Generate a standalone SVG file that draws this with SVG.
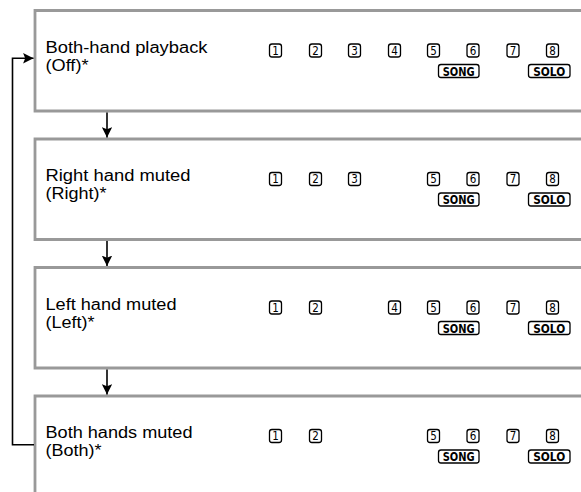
<svg xmlns="http://www.w3.org/2000/svg" width="581" height="492" viewBox="0 0 581 492">
<style>
.box{fill:none;stroke:#999;stroke-width:2.8}
.lbl{font-family:"Liberation Sans",Arial,sans-serif;font-size:16px;fill:#000}
.k{fill:#fff;stroke:#000;stroke-width:1.3}
.kt{font-family:"DejaVu Sans Condensed","DejaVu Sans",sans-serif;font-size:11.5px;text-anchor:middle;fill:#000}
.kw{font-family:"DejaVu Sans Condensed","DejaVu Sans",sans-serif;font-size:12px;font-weight:bold;text-anchor:middle;fill:#000}
.con{fill:none;stroke:#000;stroke-width:1.6}
</style>
<defs>
<marker id="ah" viewBox="0 0 10 10" refX="10" refY="5" markerWidth="6.5" markerHeight="6.5" markerUnits="strokeWidth" orient="auto">
<path d="M0,0 L10,5 L0,10 L2,5 Z" fill="#000"/>
</marker>
</defs>

<g id="node1">
<path class="box" d="M600,10.5 H35 V111 H600"/>
<text class="lbl" x="45.5" y="52.5" textLength="162" lengthAdjust="spacingAndGlyphs">Both-hand playback</text>
<text class="lbl" x="45.5" y="70.5" textLength="43" lengthAdjust="spacingAndGlyphs">(Off)*</text>
<g>
<rect class="k" x="269.5" y="44" width="12" height="13" rx="2.5"/><text class="kt" x="275.5" y="54.8">1</text>
<rect class="k" x="309.5" y="44" width="12" height="13" rx="2.5"/><text class="kt" x="315.5" y="54.8">2</text>
<rect class="k" x="348.5" y="44" width="12" height="13" rx="2.5"/><text class="kt" x="354.5" y="54.8">3</text>
<rect class="k" x="388.5" y="44" width="12" height="13" rx="2.5"/><text class="kt" x="394.5" y="54.8">4</text>
<rect class="k" x="427.5" y="44" width="12" height="13" rx="2.5"/><text class="kt" x="433.5" y="54.8">5</text>
<rect class="k" x="467" y="44" width="12" height="13" rx="2.5"/><text class="kt" x="473" y="54.8">6</text>
<rect class="k" x="507" y="44" width="12" height="13" rx="2.5"/><text class="kt" x="513" y="54.8">7</text>
<rect class="k" x="546.5" y="44" width="12" height="13" rx="2.5"/><text class="kt" x="552.5" y="54.8">8</text>
<rect class="k" x="438.5" y="64.5" width="40.5" height="13" rx="2.5"/><text class="kw" x="458.7" y="75.6" textLength="32" lengthAdjust="spacingAndGlyphs">SONG</text>
<rect class="k" x="528.5" y="64.5" width="41.5" height="13" rx="2.5"/><text class="kw" x="549.2" y="75.6" textLength="32" lengthAdjust="spacingAndGlyphs">SOLO</text>
</g>
</g>

<g id="node2">
<path class="box" d="M600,139 H35 V239.5 H600"/>
<text class="lbl" x="45.5" y="181" textLength="145" lengthAdjust="spacingAndGlyphs">Right hand muted</text>
<text class="lbl" x="45.5" y="199" textLength="61" lengthAdjust="spacingAndGlyphs">(Right)*</text>
<g transform="translate(0,128.5)">
<rect class="k" x="269.5" y="44" width="12" height="13" rx="2.5"/><text class="kt" x="275.5" y="54.8">1</text>
<rect class="k" x="309.5" y="44" width="12" height="13" rx="2.5"/><text class="kt" x="315.5" y="54.8">2</text>
<rect class="k" x="348.5" y="44" width="12" height="13" rx="2.5"/><text class="kt" x="354.5" y="54.8">3</text>
<rect class="k" x="427.5" y="44" width="12" height="13" rx="2.5"/><text class="kt" x="433.5" y="54.8">5</text>
<rect class="k" x="467" y="44" width="12" height="13" rx="2.5"/><text class="kt" x="473" y="54.8">6</text>
<rect class="k" x="507" y="44" width="12" height="13" rx="2.5"/><text class="kt" x="513" y="54.8">7</text>
<rect class="k" x="546.5" y="44" width="12" height="13" rx="2.5"/><text class="kt" x="552.5" y="54.8">8</text>
<rect class="k" x="438.5" y="64.5" width="40.5" height="13" rx="2.5"/><text class="kw" x="458.7" y="75.6" textLength="32" lengthAdjust="spacingAndGlyphs">SONG</text>
<rect class="k" x="528.5" y="64.5" width="41.5" height="13" rx="2.5"/><text class="kw" x="549.2" y="75.6" textLength="32" lengthAdjust="spacingAndGlyphs">SOLO</text>
</g>
</g>

<g id="node3">
<path class="box" d="M600,267.5 H35 V368 H600"/>
<text class="lbl" x="45.5" y="309.5" textLength="131" lengthAdjust="spacingAndGlyphs">Left hand muted</text>
<text class="lbl" x="45.5" y="327.5" textLength="49" lengthAdjust="spacingAndGlyphs">(Left)*</text>
<g transform="translate(0,257)">
<rect class="k" x="269.5" y="44" width="12" height="13" rx="2.5"/><text class="kt" x="275.5" y="54.8">1</text>
<rect class="k" x="309.5" y="44" width="12" height="13" rx="2.5"/><text class="kt" x="315.5" y="54.8">2</text>
<rect class="k" x="388.5" y="44" width="12" height="13" rx="2.5"/><text class="kt" x="394.5" y="54.8">4</text>
<rect class="k" x="427.5" y="44" width="12" height="13" rx="2.5"/><text class="kt" x="433.5" y="54.8">5</text>
<rect class="k" x="467" y="44" width="12" height="13" rx="2.5"/><text class="kt" x="473" y="54.8">6</text>
<rect class="k" x="507" y="44" width="12" height="13" rx="2.5"/><text class="kt" x="513" y="54.8">7</text>
<rect class="k" x="546.5" y="44" width="12" height="13" rx="2.5"/><text class="kt" x="552.5" y="54.8">8</text>
<rect class="k" x="438.5" y="64.5" width="40.5" height="13" rx="2.5"/><text class="kw" x="458.7" y="75.6" textLength="32" lengthAdjust="spacingAndGlyphs">SONG</text>
<rect class="k" x="528.5" y="64.5" width="41.5" height="13" rx="2.5"/><text class="kw" x="549.2" y="75.6" textLength="32" lengthAdjust="spacingAndGlyphs">SOLO</text>
</g>
</g>

<g id="node4">
<path class="box" d="M600,396 H35 V500"/>
<text class="lbl" x="45.5" y="438" textLength="147" lengthAdjust="spacingAndGlyphs">Both hands muted</text>
<text class="lbl" x="45.5" y="456" textLength="56" lengthAdjust="spacingAndGlyphs">(Both)*</text>
<g transform="translate(0,385.5)">
<rect class="k" x="269.5" y="44" width="12" height="13" rx="2.5"/><text class="kt" x="275.5" y="54.8">1</text>
<rect class="k" x="309.5" y="44" width="12" height="13" rx="2.5"/><text class="kt" x="315.5" y="54.8">2</text>
<rect class="k" x="427.5" y="44" width="12" height="13" rx="2.5"/><text class="kt" x="433.5" y="54.8">5</text>
<rect class="k" x="467" y="44" width="12" height="13" rx="2.5"/><text class="kt" x="473" y="54.8">6</text>
<rect class="k" x="507" y="44" width="12" height="13" rx="2.5"/><text class="kt" x="513" y="54.8">7</text>
<rect class="k" x="546.5" y="44" width="12" height="13" rx="2.5"/><text class="kt" x="552.5" y="54.8">8</text>
<rect class="k" x="438.5" y="64.5" width="40.5" height="13" rx="2.5"/><text class="kw" x="458.7" y="75.6" textLength="32" lengthAdjust="spacingAndGlyphs">SONG</text>
<rect class="k" x="528.5" y="64.5" width="41.5" height="13" rx="2.5"/><text class="kw" x="549.2" y="75.6" textLength="32" lengthAdjust="spacingAndGlyphs">SOLO</text>
</g>
</g>

<g id="connectors">
<path class="con" d="M107,112.5 V137.5" marker-end="url(#ah)"/>
<path class="con" d="M107,241 V266" marker-end="url(#ah)"/>
<path class="con" d="M107,369.5 V394.5" marker-end="url(#ah)"/>
<path class="con" d="M34,444.8 H12.5 V58.3 H33.5" marker-end="url(#ah)"/>
</g>
</svg>
